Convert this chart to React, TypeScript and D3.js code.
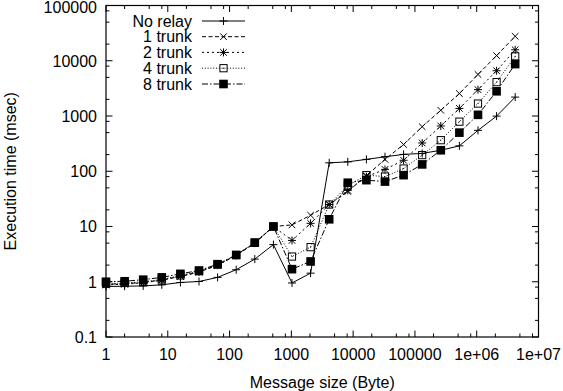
import React from "react";
import * as d3 from "d3";

const sizes = [1, 2, 4, 8, 16, 32, 64, 128, 256, 512, 1024, 2048, 4096, 8192, 16384, 32768, 65536, 131072, 262144, 524288, 1048576, 2097152, 4194304];

const noRelay = [0.82, 0.83, 0.84, 0.88, 0.97, 1.01, 1.2, 1.65, 2.57, 4.7, 0.95, 1.43, 142, 148, 164, 183, 202, 210, 240, 288, 550, 995, 2200];
const trunk1 = [0.9, 0.92, 0.97, 1.08, 1.25, 1.5, 2.0, 3.0, 5.0, 10, 10.7, 16, 25, 43, 83, 164, 305, 640, 1270, 2550, 5650, 12400, 27700];
const trunk2 = [0.88, 0.9, 0.96, 1.06, 1.25, 1.5, 2.0, 3.0, 5.0, 10, 5.6, 11.4, 25, 45, 80, 108, 158, 325, 660, 1370, 3000, 6600, 15800];
const trunk4 = [0.92, 0.95, 1.0, 1.1, 1.3, 1.55, 2.05, 3.05, 5.1, 10, 2.86, 4.23, 25, 55, 85, 80, 112, 196, 365, 790, 1680, 4100, 12000];
const trunk8 = [1.0, 1.02, 1.09, 1.2, 1.39, 1.6, 2.08, 3.05, 5.1, 10, 1.69, 2.33, 13.5, 62, 69, 65, 85, 133, 240, 500, 1050, 2800, 8700];

const seriesNames = ["No relay", "1 trunk", "2 trunk", "4 trunk", "8 trunk"];
const seriesValues = [noRelay, trunk1, trunk2, trunk4, trunk8];

const xTickValues = [1, 10, 100, 1000, 10000, 100000, 1e6, 1e7];
const xTickLabels = ["1", "10", "100", "1000", "10000", "100000", "1e+06", "1e+07"];
const yTickValues = [0.1, 1, 10, 100, 1000, 10000, 100000];
const yTickLabels = ["0.1", "1", "10", "100", "1000", "10000", "100000"];
const minorMults = [2, 5, 8];

const W = 563;
const H = 391;
const L = 106, R = 538.5, T = 5.5, B = 337;
const FONT = "'Liberation Sans', Arial, Helvetica, sans-serif";
const FS = 16;
const INK = "#000";

const dashes = [null, "4,2.5", "2,3", "1,1.8", "6,2,1.5,2"];

function Marker({ kind, x, y }: { kind: number; x: number; y: number }) {
  const s = 4;
  const c = 3.3;
  const st = { stroke: INK, strokeWidth: 1, fill: "none" };
  if (kind === 0) {
    return <path d={`M${x - s},${y}H${x + s}M${x},${y - s}V${y + s}`} {...st} />;
  }
  if (kind === 1) {
    return <path d={`M${x - c},${y - c}L${x + c},${y + c}M${x - c},${y + c}L${x + c},${y - c}`} {...st} />;
  }
  if (kind === 2) {
    return (
      <path
        d={`M${x - s},${y}H${x + s}M${x},${y - s}V${y + s}M${x - c},${y - c}L${x + c},${y + c}M${x - c},${y + c}L${x + c},${y - c}`}
        {...st}
      />
    );
  }
  if (kind === 3) {
    return (
      <g>
        <rect x={x - 3.6} y={y - 3.6} width={7.2} height={7.2} stroke={INK} strokeWidth={1} fill="none" />
        <rect x={x - 0.5} y={y - 0.5} width={1} height={1} fill={INK} />
      </g>
    );
  }
  return <rect x={x - 4.3} y={y - 4.3} width={8.6} height={8.6} fill={INK} />;
}

export default function App() {
  const x = d3.scaleLog().domain([1, 1e7]).range([L, R]);
  const y = d3.scaleLog().domain([0.1, 1e5]).range([B, T]);

  const line = d3
    .line<[number, number]>()
    .x((d) => x(d[0]))
    .y((d) => y(d[1]));

  const xMinor: number[] = [];
  for (let e = 0; e < 7; e++) for (const m of minorMults) xMinor.push(m * Math.pow(10, e));
  const yMinor: number[] = [];
  for (let e = -1; e < 5; e++) for (const m of minorMults) yMinor.push(m * Math.pow(10, e));

  const MAJ = 6.5;
  const MIN = 3.5;

  const legendTextX = 192;
  const legendX0 = 202;
  const legendX1 = 245;
  const legendMX = 223.5;
  const legendY = [21, 36.7, 52.4, 68.2, 84];

  return (
    <svg
      width={W}
      height={H}
      viewBox={`0 0 ${W} ${H}`}
      style={{ position: "absolute", left: 0, top: 0, background: "#fff" }}
      fontFamily={FONT}
      fontSize={FS}
    >
      <rect x={0} y={0} width={W} height={H} fill="#fff" />
      {seriesValues.map((vals, i) => (
        <path
          key={"l" + i}
          d={line(sizes.map((s, j) => [s, vals[j]] as [number, number])) || ""}
          fill="none"
          stroke={INK}
          strokeWidth={1}
          strokeDasharray={dashes[i] || undefined}
        />
      ))}
      {seriesValues.map((vals, i) => (
        <g key={"m" + i}>
          {sizes.map((s, j) => (
            <Marker key={j} kind={i} x={x(s)} y={y(vals[j])} />
          ))}
        </g>
      ))}
      <g stroke={INK} strokeWidth={1}>
        {xTickValues.map((v) => (
          <g key={"xt" + v}>
            <line x1={x(v)} x2={x(v)} y1={B} y2={B - MAJ} />
            <line x1={x(v)} x2={x(v)} y1={T} y2={T + MAJ} />
          </g>
        ))}
        {xMinor.map((v) => (
          <g key={"xm" + v}>
            <line x1={x(v)} x2={x(v)} y1={B} y2={B - MIN} />
            <line x1={x(v)} x2={x(v)} y1={T} y2={T + MIN} />
          </g>
        ))}
        {yTickValues.map((v) => (
          <g key={"yt" + v}>
            <line x1={L} x2={L + MAJ} y1={y(v)} y2={y(v)} />
            <line x1={R} x2={R - MAJ} y1={y(v)} y2={y(v)} />
          </g>
        ))}
        {yMinor.map((v) => (
          <g key={"ym" + v}>
            <line x1={L} x2={L + MIN} y1={y(v)} y2={y(v)} />
            <line x1={R} x2={R - MIN} y1={y(v)} y2={y(v)} />
          </g>
        ))}
      </g>
      <rect x={L} y={T} width={R - L} height={B - T} fill="none" stroke={INK} strokeWidth={1.2} />
      {xTickValues.map((v, i) => (
        <text key={"xl" + v} x={x(v)} y={360} textAnchor="middle" fill={INK}>
          {xTickLabels[i]}
        </text>
      ))}
      {yTickValues.map((v, i) => (
        <text key={"yl" + v} x={97} y={Math.max(y(v), 7)} dy="0.36em" textAnchor="end" fill={INK}>
          {yTickLabels[i]}
        </text>
      ))}
      <text x={(L + R) / 2} y={388} textAnchor="middle" fill={INK}>
        Message size (Byte)
      </text>
      <text transform={`translate(16,${(T + B) / 2}) rotate(-90)`} textAnchor="middle" fill={INK}>
        Execution time (msec)
      </text>
      {seriesNames.map((name, i) => (
        <g key={"lg" + i}>
          <text x={legendTextX} y={legendY[i]} dy="0.36em" textAnchor="end" fill={INK}>
            {name}
          </text>
          <line
            x1={legendX0}
            x2={legendX1}
            y1={legendY[i]}
            y2={legendY[i]}
            stroke={INK}
            strokeWidth={1}
            strokeDasharray={dashes[i] || undefined}
          />
          <Marker kind={i} x={legendMX} y={legendY[i]} />
        </g>
      ))}
    </svg>
  );
}
